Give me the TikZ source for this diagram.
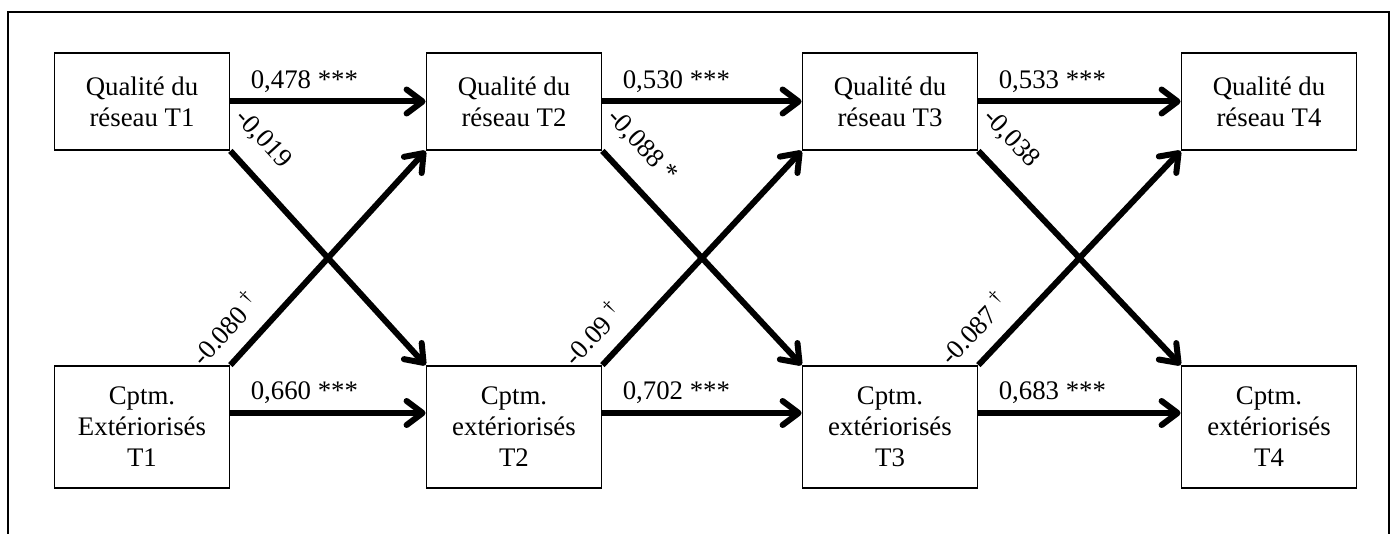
\documentclass[tikz,border=0pt]{standalone}
\usepackage{fontspec}
\setmainfont{Liberation Serif}
\usetikzlibrary{arrows.meta}
\begin{document}
\begin{tikzpicture}[x=0.5pt,y=-0.5pt,
  txt/.style={font=\fontsize{13.4}{15.5}\selectfont},
  box/.style={txt, draw, line width=0.9pt, minimum width=87.5pt, align=center, inner sep=0pt},
  topbox/.style={box, minimum height=48.5pt},
  botbox/.style={box, minimum height=61pt},
  arr/.style={line width=3pt, -{Straight Barb[length=8pt,width=12pt,round]}},
  lbl/.style={txt, inner sep=0pt},
  coef/.style={lbl, anchor=base west},
  downlbl/.style={lbl, pos=0, sloped, anchor=west, xshift=-12pt, yshift=16pt},
  uplbl/.style={lbl, pos=0, sloped, anchor=west, xshift=-11.5pt, yshift=15pt},
]
\useasboundingbox (0,0) rectangle (1396,534);
% outer frame, open at the bottom
\begin{scope}
  \clip (0,0) rectangle (1396,534);
  \draw[line width=1.3pt] (8,12) rectangle (1389,570);
\end{scope}

% network quality, T1--T4
\node[topbox] (q1) at (142,101.5) {Qualité du\\réseau T1};
\node[topbox] (q2) at (514,101.5) {Qualité du\\réseau T2};
\node[topbox] (q3) at (890,101.5) {Qualité du\\réseau T3};
\node[topbox] (q4) at (1269,101.5) {Qualité du\\réseau T4};

% externalised behaviours, T1--T4
\node[botbox] (c1) at (142,427) {Cptm.\\Extériorisés\\T1};
\node[botbox] (c2) at (514,427) {Cptm.\\extériorisés\\T2};
\node[botbox] (c3) at (890,427) {Cptm.\\extériorisés\\T3};
\node[botbox] (c4) at (1269,427) {Cptm.\\extériorisés\\T4};

% stability paths
\draw[arr] (q1.east) -- (q2.west);
\draw[arr] (q2.east) -- (q3.west);
\draw[arr] (q3.east) -- (q4.west);
\draw[arr] ([yshift=7pt]c1.east) -- ([yshift=7pt]c2.east -| c2.west);
\draw[arr] ([yshift=7pt]c2.east) -- ([yshift=7pt]c3.east -| c3.west);
\draw[arr] ([yshift=7pt]c3.east) -- ([yshift=7pt]c4.east -| c4.west);

\node[coef] (k1) at ([xshift=10pt,yshift=6.25pt]q1.east) {0,478 ***};
\node[coef] (k2) at ([xshift=10pt,yshift=6.25pt]q2.east) {0,530 ***};
\node[coef] (k3) at ([xshift=10pt,yshift=6.25pt]q3.east) {0,533 ***};
\node[coef] (k4) at ([xshift=10pt,yshift=14pt]c1.east) {0,660 ***};
\node[coef] (k5) at ([xshift=10pt,yshift=14pt]c2.east) {0,702 ***};
\node[coef] (k6) at ([xshift=10pt,yshift=14pt]c3.east) {0,683 ***};

% cross-lagged paths
\draw[arr] (q1.south east) -- (c2.north west) node[downlbl] {-0,019};
\draw[arr] (q2.south east) -- (c3.north west) node[downlbl] {-0,088 *};
\draw[arr] (q3.south east) -- (c4.north west) node[downlbl] {-0,038};
\draw[arr] (c1.north east) -- (q2.south west) node[uplbl] {-0.080 \textsuperscript{†}};
\draw[arr] (c2.north east) -- (q3.south west) node[uplbl] {-0.09 \textsuperscript{†}};
\draw[arr] (c3.north east) -- (q4.south west) node[uplbl] {-0.087 \textsuperscript{†}};
\end{tikzpicture}
\end{document}
